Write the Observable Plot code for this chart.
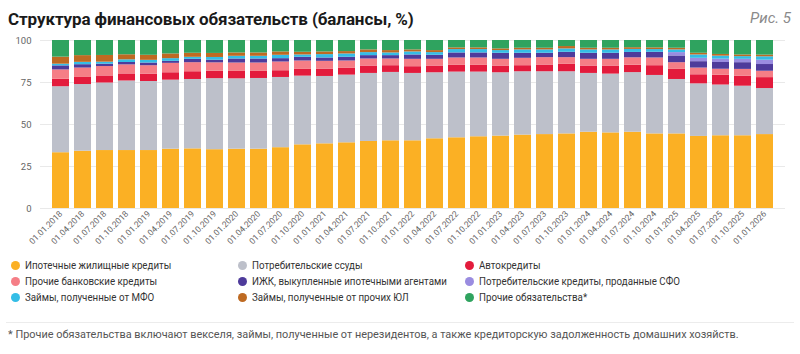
<!DOCTYPE html>
<html>
<head>
<meta charset="utf-8">
<script src="https://cdn.jsdelivr.net/npm/d3@7"></script>
<script src="https://cdn.jsdelivr.net/npm/@observablehq/plot@0.6"></script>
<style>
  html, body { margin: 0; padding: 0; background: #fff; }
  body { width: 800px; height: 354px; position: relative; overflow: hidden; font-family: Roboto, "Noto Sans", sans-serif; }
  #title { position: absolute; left: 8px; top: 9px; font-size: 17px; font-weight: 700; color: #1a1a1a; letter-spacing: -0.1px; }
  #fig { position: absolute; right: 9px; top: 9px; font-size: 15px; font-style: italic; color: #8a8a8a; }
  #chart { position: absolute; left: 0; top: 34px; }
  #legend { position: absolute; left: 0; top: 259px; width: 800px; font-size: 11.2px; color: #333; }
  .li { position: absolute; white-space: nowrap; }
  .dot { position: absolute; width: 9px; height: 9px; border-radius: 50%; top: 2px; }
  .lt { position: absolute; left: 14px; top: 0; transform: scaleX(0.87); transform-origin: 0 0; }
  #sep { position: absolute; left: 6px; top: 322px; width: 788px; height: 1px; background: #ececec; }
  #note { position: absolute; left: 8px; top: 328px; font-size: 11px; color: #555; white-space: nowrap; transform: scaleX(0.99); transform-origin: 0 0; }
</style>
</head>
<body>
<div id="title">Структура финансовых обязательств (балансы, %)</div>
<div id="fig">Рис. 5</div>
<div id="chart"></div>
<div id="legend"></div>
<div id="sep"></div>
<div id="note">* Прочие обязательства включают векселя, займы, полученные от нерезидентов, а также кредиторскую задолженность домашних хозяйств.</div>
<script>
const dates = [
  "01.01.2018","01.04.2018","01.07.2018","01.10.2018",
  "01.01.2019","01.04.2019","01.07.2019","01.10.2019",
  "01.01.2020","01.04.2020","01.07.2020","01.10.2020",
  "01.01.2021","01.04.2021","01.07.2021","01.10.2021",
  "01.01.2022","01.04.2022","01.07.2022","01.10.2022",
  "01.01.2023","01.04.2023","01.07.2023","01.10.2023",
  "01.01.2024","01.04.2024","01.07.2024","01.10.2024",
  "01.01.2025","01.04.2025","01.07.2025","01.10.2025",
  "01.01.2026"
];
const seriesNames = [
  "Ипотечные жилищные кредиты",
  "Потребительские ссуды",
  "Автокредиты",
  "Прочие банковские кредиты",
  "ИЖК, выкупленные ипотечными агентами",
  "Потребительские кредиты, проданные СФО",
  "Займы, полученные от МФО",
  "Займы, полученные от прочих ЮЛ",
  "Прочие обязательства*"
];
const seriesColors = ["#FBB024","#BDC0CA","#E31B3C","#F57E86","#4E3B9B","#9A8CE0","#34BDE6","#BE6A22","#2FA35F"];

const ipoteka = [33.2,34.1,34.5,34.5,34.5,35.3,35.5,35.0,35.3,35.3,36.2,37.9,38.5,39.1,39.9,40.3,40.3,41.5,42.1,42.7,43.1,43.7,44.0,44.4,45.4,45.0,45.4,44.4,44.4,42.9,43.3,43.3,44.0];
const potreb  = [39.3,39.7,40.2,41.4,41.1,41.1,41.3,42.3,41.9,42.1,41.8,40.9,40.1,40.3,40.5,40.7,40.1,39.3,39.1,38.5,37.7,37.7,37.4,37.0,35.0,35.0,35.5,34.8,32.4,31.3,30.2,29.5,27.4];
const avto    = [4.4,4.2,4.2,4.2,4.4,4.4,4.6,4.4,4.4,4.2,4.0,4.0,4.4,4.0,4.4,4.0,4.0,4.0,4.0,4.0,4.0,3.6,4.0,4.4,4.4,4.8,4.4,5.8,6.0,5.4,5.8,6.0,6.5];
const prochieBank = [5.6,5.6,5.6,5.4,5.0,5.6,5.4,5.0,5.0,5.0,5.2,5.0,4.6,4.4,4.2,4.0,4.4,4.0,4.4,4.4,4.0,4.4,4.4,4.0,4.0,4.0,4.4,4.6,4.0,4.0,3.6,4.0,3.8];
const izhkAgents  = [2.4,2.0,1.4,1.4,1.6,1.2,2.0,1.6,2.4,2.4,2.0,2.2,2.0,2.2,2.0,2.0,2.6,2.4,3.0,3.0,3.6,3.0,2.6,3.2,3.6,3.6,3.2,3.4,4.0,3.8,4.0,4.0,4.0];
const sfo         = [0,0,0,0,0,0,0,0,0,0,0,0,0,0,0,0,0,0,0,0,0,0,0,0,0,0,0,0,2.0,2.0,2.0,2.0,2.6];
const mfo         = [1.0,1.4,1.2,1.6,1.6,1.6,1.2,1.6,1.6,1.6,2.0,1.4,2.0,2.0,1.8,1.6,1.8,1.6,2.0,2.0,1.6,2.0,2.0,2.0,2.0,2.0,1.8,1.6,1.6,2.0,1.8,1.6,2.0];
const prochieUL   = [4.2,4.0,4.0,3.0,3.0,2.8,2.4,2.4,2.0,2.0,2.0,1.6,1.6,1.4,1.6,1.4,1.2,1.2,1.0,1.0,1.0,1.0,1.0,1.4,1.0,1.0,1.0,1.0,1.0,1.0,1.0,1.0,1.0];
const prochie     = [9.9,9.0,8.9,8.5,8.8,8.0,7.6,7.7,7.4,7.4,6.8,7.0,6.8,6.6,5.6,6.0,5.6,6.0,4.4,4.4,5.0,4.6,4.6,3.6,4.6,4.6,4.3,4.4,4.6,7.6,8.3,8.6,8.7];

const seriesValues = [ipoteka, potreb, avto, prochieBank, izhkAgents, sfo, mfo, prochieUL, prochie];

const data = [];
dates.forEach((d, i) => {
  seriesNames.forEach((s, k) => {
    data.push({date: d, series: s, value: seriesValues[k][i]});
  });
});

const chart = Plot.plot({
  width: 800,
  height: 222,
  marginLeft: 40,
  marginRight: 15,
  marginTop: 6,
  marginBottom: 48,
  style: {fontFamily: "Roboto, sans-serif", color: "#666", background: "transparent"},
  x: {type: "band", domain: dates, paddingInner: 0.22, paddingOuter: 0.165, label: null},
  y: {domain: [0, 100], label: null},
  color: {domain: seriesNames, range: seriesColors},
  marks: [
    Plot.gridY([0, 25, 50, 75, 100], {stroke: "#e9e9e9", strokeOpacity: 1}),
    Plot.barY(data, Plot.stackY({x: "date", y: "value", fill: "series", order: seriesNames})),
    Plot.axisY({ticks: [0, 25, 50, 75, 100], tickSize: 0, tickPadding: 9, fontSize: 9.5, label: null}),
    Plot.axisX({tickRotate: -45, tickSize: 0, tickPadding: 4, fontSize: 8.5, label: null})
  ]
});
document.getElementById("chart").appendChild(chart);

const legend = document.getElementById("legend");
const colX = [16, 243, 470];
const rowY = [0, 16, 32];
seriesNames.forEach((s, k) => {
  const li = document.createElement("div");
  li.className = "li";
  li.style.left = (colX[k % 3] - 5) + "px";
  li.style.top = rowY[Math.floor(k / 3)] + "px";
  const dot = document.createElement("span");
  dot.className = "dot";
  dot.style.background = seriesColors[k];
  dot.style.left = "0px";
  const t = document.createElement("span");
  t.className = "lt";
  t.textContent = s;
  li.appendChild(dot);
  li.appendChild(t);
  legend.appendChild(li);
});
</script>
</body>
</html>
